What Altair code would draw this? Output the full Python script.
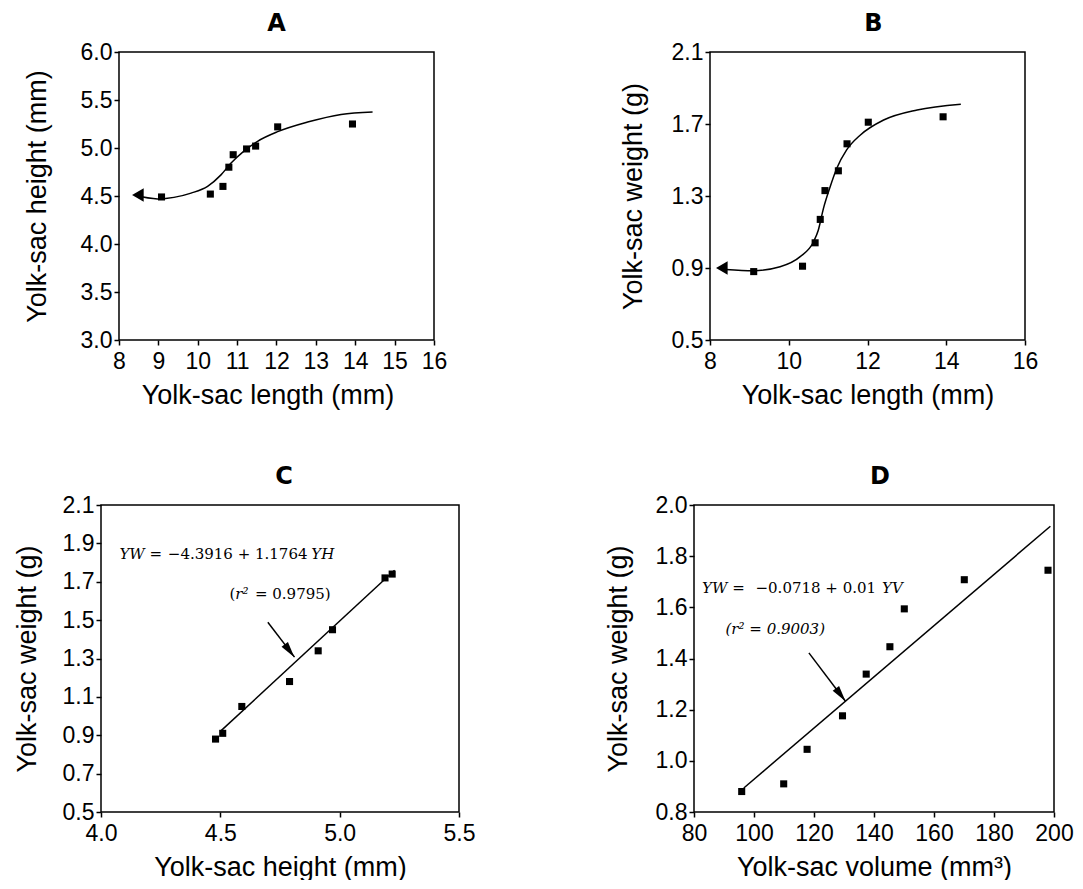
import altair as alt
import pandas as pd

FONT = "Liberation Sans"
SERIF = "DejaVu Serif"

# ---------------- Panel A: yolk-sac length vs height ----------------
a_len = [9.08, 10.32, 10.64, 10.79, 10.90, 11.24, 11.47, 12.03, 13.93]
a_height = [4.49, 4.52, 4.60, 4.80, 4.93, 4.99, 5.02, 5.22, 5.25]
a_curve_x = [8.39, 8.98, 9.83, 10.25, 10.59, 10.84, 11.18, 11.52, 12.03, 12.79, 13.64, 14.44]
a_curve_y = [4.51, 4.47, 4.53, 4.60, 4.72, 4.84, 4.97, 5.07, 5.17, 5.27, 5.35, 5.375]
a_arrow = [8.48, 4.51]
a_xticks = [8, 9, 10, 11, 12, 13, 14, 15, 16]
a_yticks = [3.0, 3.5, 4.0, 4.5, 5.0, 5.5, 6.0]
# panel A sits 18 px right of panel C; the x domain starts a little before 8
a_xdomain = [7.543, 16]

# ---------------- Panel B: yolk-sac length vs weight ----------------
b_len = [9.11, 10.35, 10.67, 10.80, 10.92, 11.26, 11.48, 12.02, 13.92]
b_weight = [0.88, 0.91, 1.04, 1.17, 1.33, 1.44, 1.59, 1.71, 1.74]
b_curve_x = [8.40, 9.10, 9.78, 10.29, 10.63, 10.75, 10.88, 11.05, 11.22, 11.47, 11.82, 12.41, 13.26, 14.37]
b_curve_y = [0.892, 0.885, 0.907, 0.963, 1.046, 1.11, 1.23, 1.35, 1.454, 1.556, 1.639, 1.722, 1.778, 1.81]
b_arrow = [8.30, 0.90]
b_xticks = [8, 10, 12, 14, 16]
b_yticks = [0.5, 0.9, 1.3, 1.7, 2.1]

# ---------------- Panel C: height vs weight ----------------
c_height = [4.48, 4.51, 4.59, 4.79, 4.91, 4.97, 5.19, 5.22]
c_weight = [0.88, 0.91, 1.05, 1.18, 1.34, 1.45, 1.72, 1.74]
c_fit_x = [4.50, 5.23]
c_fit_y = [0.92, 1.76]
c_xticks = [4.0, 4.5, 5.0, 5.5]
c_yticks = [0.5, 0.7, 0.9, 1.1, 1.3, 1.5, 1.7, 1.9, 2.1]
c_eq_text = ["YW =", "\u22124.3916 + 1.1764", "YH"]
c_eq_x = [4.077, 4.280, 4.881]
c_eq_y = 1.818
c_r2_text = ["(", "r\u00b2", "= 0.9795)"]
c_r2_x = [4.538, 4.563, 4.645]
c_r2_y = 1.610
c_arrow_from = [4.699, 1.489]
c_arrow_to = [4.811, 1.307]
c_head = [4.790, 1.340]

# ---------------- Panel D: volume vs weight ----------------
d_volume = [95.9, 109.9, 117.7, 129.5, 137.4, 145.3, 150.1, 170.1, 198.0]
d_weight = [0.88, 0.91, 1.045, 1.176, 1.339, 1.446, 1.594, 1.708, 1.745]
d_fit_x = [96.6, 198.8]
d_fit_y = [0.894, 1.917]
d_xticks = [80, 100, 120, 140, 160, 180, 200]
d_yticks = [0.8, 1.0, 1.2, 1.4, 1.6, 1.8, 2.0]
d_eq_text = ["YW =", "\u22120.0718 + 0.01", "YV"]
d_eq_x = [82.7, 100.5, 142.7]
d_eq_y = 1.657
d_r2_text = "(r\u00b2 = 0.9003)"
d_r2_x = 90.5
d_r2_y = 1.494
d_arrow_from = [118.3, 1.422]
d_arrow_to = [130.5, 1.233]
d_head = [128.9, 1.258]

ARROW_PATH = "M0,-1L0.5,1L-0.5,1Z"


def xaxis(values, fmt, title):
    return alt.Axis(values=values, format=fmt, title=title, grid=False, domain=False,
                    tickSize=5, tickWidth=1.5, tickColor="black",
                    labelFont=FONT, labelFontSize=23, labelColor="black",
                    labelPadding=5, labelFlush=False, labelOverlap=False,
                    titleFont=FONT, titleFontSize=27, titleFontWeight="normal",
                    titleColor="black", titlePadding=9)


def yaxis(values, fmt, title, title_x, offset=0):
    return alt.Axis(values=values, format=fmt, title=title, grid=False, domain=False,
                    tickSize=5, tickWidth=1.5, tickColor="black", offset=offset,
                    labelFont=FONT, labelFontSize=23, labelColor="black",
                    labelPadding=2, labelOverlap=False,
                    titleFont=FONT, titleFontSize=27, titleFontWeight="normal",
                    titleColor="black", titleX=title_x, titleBaseline="middle")


def panel(title, dx, w, h, xdom, ydom, xax, yax, frame, pts, curve, extras):
    xe = alt.X("x:Q", scale=alt.Scale(domain=xdom, nice=False, zero=False), axis=xax)
    ye = alt.Y("y:Q", scale=alt.Scale(domain=ydom, nice=False, zero=False), axis=yax)
    layers = []
    layers.append(alt.Chart(pd.DataFrame({"x": [frame[0]], "x2": [frame[1]],
                                          "y": [frame[2]], "y2": [frame[3]]}))
                  .mark_rect(filled=False, stroke="black", strokeWidth=1.5)
                  .encode(x=xe, x2="x2:Q", y=ye, y2="y2:Q"))
    layers.append(alt.Chart(pd.DataFrame({"x": pts[0], "y": pts[1]}))
                  .mark_square(size=50, color="black", opacity=1)
                  .encode(x=xe, y=ye))
    layers.append(alt.Chart(pd.DataFrame({"x": curve[0], "y": curve[1]}))
                  .mark_line(color="black", strokeWidth=1.5, interpolate=curve[2])
                  .encode(x=xe, y=ye))
    for ex in extras:
        layers.append(ex(xe, ye))
    return alt.layer(*layers).properties(
        width=w, height=h,
        title=alt.TitleParams(title, font="DejaVu Sans", fontSize=24, fontWeight="bold",
                              color="black", offset=5, dx=dx, anchor="middle"))


def arrowhead_left(pos):
    def f(xe, ye):
        return (alt.Chart(pd.DataFrame({"x": [pos[0]], "y": [pos[1]]}))
                .mark_point(shape="triangle-left", size=180, filled=True, color="black", opacity=1)
                .encode(x=xe, y=ye))
    return f


def texts(xs, ys, labels, style):
    def f(xe, ye):
        return (alt.Chart(pd.DataFrame({"x": xs, "y": ys, "t": labels}))
                .mark_text(align="left", baseline="alphabetic", font=SERIF, fontSize=15,
                           fontStyle=style, color="black")
                .encode(x=xe, y=ye, text="t:N"))
    return f


def arrow(frm, to, head):
    def f(xe, ye):
        line = (alt.Chart(pd.DataFrame({"x": [frm[0], to[0]], "y": [frm[1], to[1]]}))
                .mark_line(color="black", strokeWidth=1.5)
                .encode(x=xe, y=ye))
        hd = (alt.Chart(pd.DataFrame({"x": [head[0]], "y": [head[1]]}))
              .mark_point(shape=ARROW_PATH, size=256, angle=143, filled=True,
                          color="black", opacity=1)
              .encode(x=xe, y=ye))
        return alt.layer(line, hd)
    return f


chartA = panel("A", 9, 333, 288, a_xdomain, [a_yticks[0], a_yticks[-1]],
               xaxis(a_xticks, "d", "Yolk-sac length (mm)"),
               yaxis(a_yticks, ".1f", "Yolk-sac height (mm)", -82, offset=-18),
               [a_xticks[0], a_xticks[-1], a_yticks[0], a_yticks[-1]],
               (a_len, a_height), (a_curve_x, a_curve_y, "monotone"),
               [arrowhead_left(a_arrow)])

chartB = panel("B", 6, 315, 288, [b_xticks[0], b_xticks[-1]], [b_yticks[0], b_yticks[-1]],
               xaxis(b_xticks, "d", "Yolk-sac length (mm)"),
               yaxis(b_yticks, ".1f", "Yolk-sac weight (g)", -77),
               [b_xticks[0], b_xticks[-1], b_yticks[0], b_yticks[-1]],
               (b_len, b_weight), (b_curve_x, b_curve_y, "monotone"),
               [arrowhead_left(b_arrow)])

c_italic_x = [c_eq_x[0], c_eq_x[2], c_r2_x[1]]
c_italic_y = [c_eq_y, c_eq_y, c_r2_y]
c_italic_t = [c_eq_text[0], c_eq_text[2], c_r2_text[1]]
c_norm_x = [c_eq_x[1], c_r2_x[0], c_r2_x[2]]
c_norm_y = [c_eq_y, c_r2_y, c_r2_y]
c_norm_t = [c_eq_text[1], c_r2_text[0], c_r2_text[2]]

chartC = panel("C", 4, 358, 307, [c_xticks[0], c_xticks[-1]], [c_yticks[0], c_yticks[-1]],
               xaxis(c_xticks, ".1f", "Yolk-sac height (mm)"),
               yaxis(c_yticks, ".1f", "Yolk-sac weight (g)", -74),
               [c_xticks[0], c_xticks[-1], c_yticks[0], c_yticks[-1]],
               (c_height, c_weight), (c_fit_x, c_fit_y, "linear"),
               [texts(c_italic_x, c_italic_y, c_italic_t, "italic"),
                texts(c_norm_x, c_norm_y, c_norm_t, "normal"),
                arrow(c_arrow_from, c_arrow_to, c_head)])

d_italic_x = [d_eq_x[0], d_eq_x[2], d_r2_x]
d_italic_y = [d_eq_y, d_eq_y, d_r2_y]
d_italic_t = [d_eq_text[0], d_eq_text[2], d_r2_text]

chartD = panel("D", 6, 360, 307, [d_xticks[0], d_xticks[-1]], [d_yticks[0], d_yticks[-1]],
               xaxis(d_xticks, "d", "Yolk-sac volume (mm\u00b3)"),
               yaxis(d_yticks, ".1f", "Yolk-sac weight (g)", -76),
               [d_xticks[0], d_xticks[-1], d_yticks[0], d_yticks[-1]],
               (d_volume, d_weight), (d_fit_x, d_fit_y, "linear"),
               [texts(d_italic_x, d_italic_y, d_italic_t, "italic"),
                texts([d_eq_x[1]], [d_eq_y], [d_eq_text[1]], "normal"),
                arrow(d_arrow_from, d_arrow_to, d_head)])

row1 = alt.hconcat(chartA, chartB, spacing=172)
row2 = alt.hconcat(chartC, chartD, spacing=129)

chart = (alt.vconcat(row1, row2, spacing=57)
         .properties(padding={"left": 5, "top": 4, "right": 0, "bottom": 0}, background="white")
         .configure_view(strokeWidth=0))

chart.save("out.html", embed_options={"renderer": "svg", "actions": False})
